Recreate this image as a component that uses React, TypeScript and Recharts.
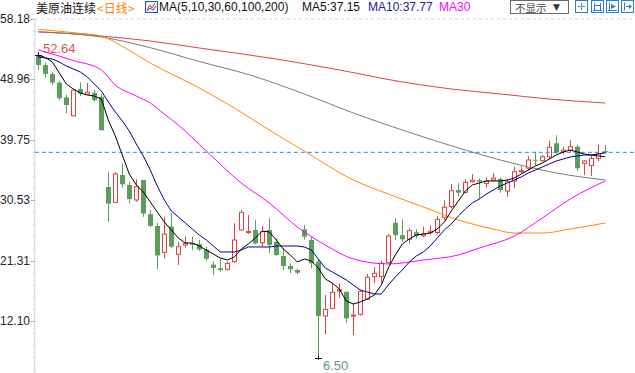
import React from "react";
import { ComposedChart, Bar, Line, XAxis, YAxis, ReferenceLine } from "recharts";

const opens = [52.5,51.15,49.78,48.45,46.2,43.4,47.5,46.7,46.9,46.3, 32.54,30.2,34.37,32.85,30.56,33.6,28.38,26.6,22.58,26.5, 22.27,23.7,23.97,23.85,23.0,20.7,20.15,19.99,21.15,25.98, 25.65,25.98,24.05,25.98,24.2,22.02,20.49,19.88,26.08,24.45, 21.15,12.86,14.03,16.7,16.57,12.9,13.12,15.43,18.86,18.86, 21.0,27.09,25.2,24.56,25.63,25.1,25.6,25.6,27.92,29.54, 32.07,31.73,33.35,33.6,33.1,33.6,33.76,31.93,33.46,35.0, 35.4,36.7,36.55,37.15,39.2,37.9,38.1,38.68,36.15,35.8, 36.9,38.0];
const highs = [52.64,51.5,50.1,48.75,46.6,47.4,48.5,48.4,47.3,46.7, 34.87,34.83,36.15,33.35,33.7,33.6,29.03,27.1,28.0,28.53, 24.2,24.96,25.0,24.5,23.4,21.2,21.67,21.15,27.0,29.03, 28.27,27.5,26.6,27.77,24.72,23.19,20.9,20.1,26.74,25.0, 21.5,16.07,17.85,17.85,16.57,14.7,16.8,19.27,20.3,21.3, 25.37,27.77,27.6,26.24,26.1,26.5,26.7,28.1,30.5,32.96, 33.1,33.71,34.5,33.85,34.0,34.63,34.0,33.71,35.64,35.7, 37.25,37.9,37.4,39.6,40.44,38.7,39.7,38.95,36.65,37.4, 38.95,38.95];
const lows = [50.4,49.27,48.1,45.8,43.8,43.3,46.4,46.6,45.55,41.2, 27.25,30.1,32.43,30.05,30.3,28.0,26.4,19.99,21.66,23.2, 20.64,23.34,22.9,22.8,21.3,19.12,19.62,19.78,20.9,25.9, 25.4,23.8,23.43,22.43,22.02,19.88,19.38,19.2,24.5,20.13, 6.5,10.12,13.9,15.56,11.85,9.96,12.9,15.3,17.9,17.94, 20.9,24.45,24.2,23.95,24.7,24.9,25.3,25.3,27.5,29.3, 31.06,31.5,33.2,30.67,32.5,33.4,31.66,31.06,32.34,34.6, 35.0,35.85,36.4,36.8,37.5,37.5,37.9,35.0,34.36,34.2, 36.5,37.6];
const closes = [51.15,49.78,48.45,46.07,45.05,47.3,46.8,47.0,45.8,41.2, 30.0,34.52,32.95,30.7,32.6,28.5,26.6,22.1,25.37,23.43, 23.43,23.96,23.72,23.0,21.6,20.2,19.88,20.9,24.45,28.68, 25.75,23.95,25.72,23.7,22.17,20.49,19.99,19.47,24.96,20.9, 12.86,13.88,16.48,16.85,12.51,13.0,16.63,18.78,19.37,20.9, 25.06,25.2,24.56,25.87,25.07,25.37,25.8,27.6,29.45,31.97, 31.67,33.25,33.6,33.35,33.45,33.9,32.08,33.35,34.87,35.02, 36.66,36.6,37.15,38.6,37.78,38.15,38.68,35.4,36.5,36.9, 37.6,37.83];

const ma5 = [52.67,52.29,51.61,49.93,48.25,47.49,46.88,46.57,46.42,45.96, 42.76,40.32,37.42,34.52,32.85,31.78,30.25,28.73,27.2,25.98, 24.76,24.0,24.0,23.54,22.93,22.32,21.71,21.41,21.86,23.08, 23.85,24.76,25.83,25.68,24.46,23.08,22.17,21.1,21.56,21.25, 20.19,18.51,17.9,16.98,15.15,14.69,15.0,15.46,16.07,17.59, 20.19,22.17,23.85,24.61,25.22,25.37,25.52,26.13,27.2,28.88, 30.4,31.93,32.85,33.15,33.46,33.46,33.46,33.61,33.91,34.52, 35.13,35.74,36.2,36.81,37.42,37.88,38.18,37.88,37.57,37.42, 37.27,37.15];
const ma10 = [52.37,52.22,52.06,51.61,51.0,50.54,50.08,49.32,48.25,47.18, 45.51,43.98,42.61,41.08,39.1,37.27,35.13,32.69,30.56,28.88, 27.96,27.05,26.13,25.22,24.46,23.54,22.63,22.63,22.63,22.93, 23.39,23.39,23.39,23.39,23.54,23.54,23.54,23.54,23.39,22.93, 21.56,20.19,19.58,18.97,18.36,17.59,16.83,16.52,16.22,16.22, 17.59,18.81,19.88,21.1,22.02,22.63,23.54,24.76,25.98,26.9, 28.12,29.18,30.1,30.71,31.47,32.08,32.69,33.15,33.61,34.07, 34.68,35.13,35.59,36.05,36.51,36.81,37.12,37.27,37.42,37.42, 37.57,37.77];
// [candle index, value] readings of the slow averages
const ma30 = [[0,53.44],[5,51.84],[9,50.39],[11,48.1],[14,46.42],[16,45.35],[18,43.67],[20,42.0],[24,38.03],[29,33.15],[33,30.1],[37,26.44],[41,23.69],[45,21.56],[50,20.8],[55,21.4],[60,22.17],[63,23.23],[68,25.06],[72,27.81],[76,30.71],[81,33.46]];
const ma60 = [[0,56.59],[5,56.08],[9,55.57],[12,54.0],[16,51.45],[23,47.64],[28,44.59],[33,41.23],[38,38.03],[45,33.61],[50,31.47],[55,29.49],[60,27.51],[65,26.13],[68,25.52],[72,25.52],[76,26.13],[81,27.05]];
const ma100 = [[0,56.18],[9,55.42],[16,53.79],[23,51.68],[30,49.7],[38,46.73],[45,43.83],[52,41.23],[61,38.18],[66,36.66],[70,35.59],[74,34.68],[81,33.61]];
const ma200 = [[0,56.23],[9,55.57],[16,54.81],[23,53.74],[34,52.06],[43,50.39],[52,48.56],[59,47.49],[66,46.73],[73,45.96],[81,45.35]];

const yTickLabels = [58.18, 48.96, 39.75, 30.53, 21.31, 12.10];
const Y_MIN = 4.17;

const RED = "#e04040";
const GREEN = "#5b9e5b";
const AXIS_X = 34.8;

const lookup = (pts: number[][], i: number) => {
  const f = pts.find((p) => p[0] === i);
  return f ? f[1] : null;
};

const rows = opens.map((o, i) => ({
  day: `D${i + 1}`,
  i,
  open: o,
  high: highs[i],
  low: lows[i],
  close: closes[i],
  ma5: ma5[i],
  ma10: ma10[i],
  ma30: lookup(ma30, i),
  ma60: lookup(ma60, i),
  ma100: lookup(ma100, i),
  ma200: lookup(ma200, i),
}));

const maxIdx = highs.indexOf(Math.max(...highs));
const minIdx = lows.indexOf(Math.min(...lows));
const lastClose = closes[closes.length - 1];

const majorStep = yTickLabels[0] - yTickLabels[1];
const yTicks: number[] = [];
yTickLabels.forEach((v) => {
  yTicks.push(v);
  for (let m = 1; m < 5; m++) {
    const t = +(v - (majorStep * m) / 5).toFixed(4);
    if (t > Y_MIN) yTicks.push(t);
  }
});

const AxisTick = (props: any) => {
  const { y, payload } = props;
  const v = payload.value;
  const major = yTickLabels.some((m) => Math.abs(m - v) < 0.001);
  const yy = Math.round(y) + 0.5;
  if (major) {
    return (
      <g>
        <line x1={30.5} x2={AXIS_X} y1={yy} y2={yy} stroke="#9fb6c8" strokeWidth={1} />
        <text x={30} y={y} textAnchor="end" dominantBaseline="central" fontSize={12} fill="#1c2433" fontFamily='"Liberation Sans", Arial, sans-serif'>
          {v.toFixed(2)}
        </text>
      </g>
    );
  }
  return <line x1={33} x2={AXIS_X} y1={yy} y2={yy} stroke="#c5d6e4" strokeWidth={1} />;
};

const Candle = (props: any) => {
  const { x, y, width, height, payload } = props;
  const { open, close, high, low, i } = payload;
  const span = high - low;
  const k = span > 0 ? height / span : 0;
  const py = (v: number) => y + (high - v) * k;
  const cx = Math.round(x + width / 2) + 0.5;
  const up = close >= open;
  const color = up ? RED : GREEN;
  const top = py(Math.max(open, close));
  const bot = py(Math.min(open, close));
  const hy = py(high);
  const ly = py(low);
  const bl = cx - 2.5;
  const els: React.ReactNode[] = [];
  if (up) {
    const bh = Math.max(bot - top, 1);
    els.push(<line key="w1" x1={cx} x2={cx} y1={hy} y2={top} stroke={color} />);
    els.push(<line key="w2" x1={cx} x2={cx} y1={top + bh} y2={ly} stroke={color} />);
    els.push(<rect key="b" x={bl + 0.5} y={top} width={4} height={bh} fill="#fff" stroke={color} strokeWidth={1} />);
  } else {
    const bh = Math.max(bot - top, 1);
    els.push(<line key="w" x1={cx} x2={cx} y1={hy} y2={ly} stroke={color} />);
    els.push(<rect key="b" x={bl} y={top} width={5} height={bh} fill={color} />);
  }
  if (i === maxIdx) {
    els.push(<line key="mh" x1={cx - 3.5} x2={cx + 3.5} y1={Math.round(hy) + 0.5} y2={Math.round(hy) + 0.5} stroke="#000" />);
    els.push(<line key="mv" x1={cx} x2={cx} y1={hy - 3} y2={hy + 2} stroke="#000" />);
    els.push(
      <text key="mt" x={cx + 4.5} y={hy - 2} fontSize={13} fill="#e0504c" fontFamily='"Liberation Sans", Arial, sans-serif'>
        {high.toFixed(2)}
      </text>
    );
  }
  if (i === minIdx) {
    els.push(<line key="nh" x1={cx - 3.5} x2={cx + 3.5} y1={Math.round(ly) + 0.5} y2={Math.round(ly) + 0.5} stroke="#000" />);
    els.push(<line key="nv" x1={cx} x2={cx} y1={ly - 2} y2={ly + 2} stroke="#000" />);
    els.push(
      <text key="nt" x={cx + 4.5} y={ly + 12} fontSize={13} fill="#5a9c86" fontFamily='"Liberation Sans", Arial, sans-serif'>
        {low.toFixed(2)}
      </text>
    );
  }
  return <g>{els}</g>;
};

const hdr: React.CSSProperties = {
  position: "absolute",
  top: 1,
  fontSize: 12,
  lineHeight: "13px",
  whiteSpace: "nowrap",
  fontFamily: '"Liberation Sans", Arial, "Noto Sans CJK SC", sans-serif',
};

const IconBox = ({ left, children }: { left: number; children: React.ReactNode }) => (
  <svg style={{ position: "absolute", left, top: 0 }} width={13} height={13}>
    <rect x={0.5} y={0.5} width={12} height={12} fill="#fff" stroke="#2a7fd0" />
    {children}
  </svg>
);

export default function App() {
  return (
    <div style={{ position: "absolute", left: 0, top: 0, width: 635, height: 373, background: "#fff", overflow: "hidden" }}>
      <div style={{ position: "absolute", left: 0, top: 0 }}>
        <ComposedChart width={635} height={373} data={rows} margin={{ top: 18.9, right: 0, bottom: 0, left: 0 }}>
          <XAxis dataKey="day" hide padding={{ left: 0, right: 26.2 }} />
          <YAxis
            type="number"
            domain={[Y_MIN, yTickLabels[0]]}
            allowDataOverflow
            ticks={yTicks}
            interval={0}
            width={AXIS_X}
            tickLine={false}
            axisLine={{ stroke: "#c5d6e4" }}
            tick={<AxisTick />}
          />
          <ReferenceLine y={yTickLabels[0]} stroke="#d6d6d6" strokeDasharray="3 3" />
          <Bar dataKey={(d: any) => [d.low, d.high]} barSize={5} shape={(p: any) => <Candle {...p} />} isAnimationActive={false} />
          <ReferenceLine y={lastClose} stroke="#1e86ff" strokeDasharray="4 3" />
          <Line dataKey="ma200" type="monotone" stroke="#d94545" strokeWidth={1} dot={false} activeDot={false} connectNulls isAnimationActive={false} />
          <Line dataKey="ma100" type="monotone" stroke="#7a7a7a" strokeWidth={1} dot={false} activeDot={false} connectNulls isAnimationActive={false} />
          <Line dataKey="ma60" type="monotone" stroke="#ff8a00" strokeWidth={1} dot={false} activeDot={false} connectNulls isAnimationActive={false} />
          <Line dataKey="ma30" type="monotone" stroke="#ff00ff" strokeWidth={1} dot={false} activeDot={false} connectNulls isAnimationActive={false} />
          <Line dataKey="ma10" type="linear" stroke="#00008b" strokeWidth={1} dot={false} activeDot={false} isAnimationActive={false} />
          <Line dataKey="ma5" type="linear" stroke="#000000" strokeWidth={1} dot={false} activeDot={false} isAnimationActive={false} />
        </ComposedChart>
      </div>
      <span style={{ ...hdr, left: 36, top: 0, lineHeight: "15px", fontFamily: '"Noto Sans CJK SC", sans-serif', color: "#111" }}>美原油连续</span>
      <span style={{ ...hdr, left: 97, top: 0, lineHeight: "15px", fontFamily: '"Noto Sans CJK SC", sans-serif', color: "#ff8000" }}>&lt;日线&gt;</span>
      <svg style={{ position: "absolute", left: 145, top: 1 }} width={13} height={12}>
        <rect x={0.5} y={0.5} width={12} height={11} fill="#eef3ff" stroke="#2c50b0" />
        <polyline points="2,9 5,4 7,7 10,2" fill="none" stroke="#e03030" />
        <polyline points="2,10 5,7 8,9 11,5" fill="none" stroke="#2c50b0" />
      </svg>
      <span style={{ ...hdr, left: 159, color: "#111" }}>MA(5,10,30,60,100,200)</span>
      <span style={{ ...hdr, left: 302, color: "#111" }}>MA5:37.15</span>
      <span style={{ ...hdr, left: 368, color: "#22228c" }}>MA10:37.77</span>
      <span style={{ ...hdr, left: 439, color: "#ff00ff" }}>MA30</span>
      <div
        style={{
          position: "absolute",
          left: 510,
          top: 0,
          width: 59,
          height: 14,
          border: "1px solid #6a6a6a",
          boxSizing: "border-box",
          background: "#fff",
        }}
      />
      <span style={{ position: "absolute", left: 515, top: 0, fontSize: 10.5, lineHeight: "15px", color: "#444", fontFamily: '"Noto Sans CJK SC", sans-serif', whiteSpace: "nowrap" }}>不显示</span>
      <span style={{ position: "absolute", left: 553, top: 1, fontSize: 9, lineHeight: "12px", color: "#333", fontFamily: '"DejaVu Sans", sans-serif' }}>▼</span>
      <IconBox left={575}>
        <path d="M6.5 3v2M6.5 8v2M3 6.5h2M8 6.5h2" stroke="#2a7fd0" />
        <rect x={5.5} y={5.5} width={2} height={2} fill="#2a7fd0" />
      </IconBox>
      <IconBox left={591}>
        <path d="M3.5 3v7M9.5 3v7M3.5 5.5h6M2 10.5h9" stroke="#2a7fd0" fill="none" />
      </IconBox>
      <IconBox left={606}>
        <path d="M3.5 2.5v8M2 10.5h9" stroke="#2a7fd0" fill="none" />
        <polygon points="5,4 10,6.5 5,9" fill="#2a7fd0" />
      </IconBox>
      <IconBox left={621}>
        <path d="M3.5 2.5v8M5 6.5h4" stroke="#2a7fd0" fill="none" />
        <polygon points="8,4 11,6.5 8,9" fill="#2a7fd0" />
      </IconBox>
    </div>
  );
}
